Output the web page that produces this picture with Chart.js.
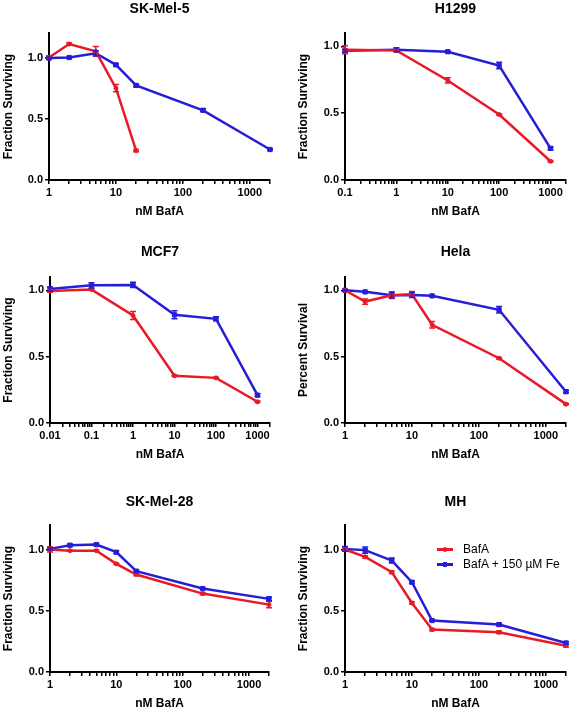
<!DOCTYPE html>
<html>
<head>
    <meta charset="utf-8">
    <title>BafA survival</title>
    <script src="https://cdn.jsdelivr.net/npm/chart.js@4.4.1/dist/chart.umd.min.js"></script>
    <style>
        body { margin: 0; background: #fff; }
        #wrap { position: relative; width: 571px; height: 711px; font-family: "Liberation Sans", Arial, sans-serif; }
        #wrap canvas { position: absolute; }
        #legend { position: absolute; left: 437px; top: 542px; font-size: 12px; color: #000; }
        #legend .row { height: 15px; line-height: 15px; white-space: nowrap; position: relative; padding-left: 26px; }
        #legend .line { position: absolute; left: 0; top: 6px; width: 16px; height: 2.5px; }
        #legend .mark { position: absolute; left: 5.5px; top: 5px; width: 4.5px; height: 4.5px; }
    </style>
</head>
<body>
<div id="wrap">
    <canvas id="p1" width="285" height="235" style="left:0;top:0"></canvas>
    <canvas id="p2" width="286" height="235" style="left:285px;top:0"></canvas>
    <canvas id="p3" width="285" height="235" style="left:0;top:235px"></canvas>
    <canvas id="p4" width="286" height="235" style="left:285px;top:235px"></canvas>
    <canvas id="p5" width="285" height="241" style="left:0;top:470px"></canvas>
    <canvas id="p6" width="286" height="241" style="left:285px;top:470px"></canvas>
    <div id="legend"></div>
</div>
<script>
    const seriesNames = ['BafA', 'BafA + 150 \u00b5M Fe'];
    const redColor = 'rgb(232,26,38)';
    const blueColor = 'rgb(38,30,214)';
    const yTicks = [0, 0.5, 1.0];

    // SK-Mel-5
    const skmel5Dose = [1, 2, 5, 10, 20, 200, 2000];
    const skmel5Bafa = [1.0, 1.11, 1.05, 0.75, 0.24];
    const skmel5BafaErr = [0.015, 0.01, 0.04, 0.03, 0.01];
    const skmel5Fe = [0.995, 1.0, 1.035, 0.94, 0.772, 0.569, 0.249];
    const skmel5FeErr = [0.01, 0.005, 0.02, 0.01, 0.01, 0.01, 0.005];
    const skmel5XLabels = [1, 10, 100, 1000];

    // H1299
    const h1299Dose = [0.1, 1, 10, 100, 1000];
    const h1299Bafa = [0.975, 0.97, 0.745, 0.49, 0.14];
    const h1299BafaErr = [0.03, 0.01, 0.02, 0.005, 0.005];
    const h1299Fe = [0.967, 0.975, 0.96, 0.857, 0.237];
    const h1299FeErr = [0.01, 0.015, 0.005, 0.025, 0.01];
    const h1299XLabels = [0.1, 1, 10, 100, 1000];

    // MCF7
    const mcf7Dose = [0.01, 0.1, 1, 10, 100, 1000];
    const mcf7Bafa = [0.995, 1.005, 0.81, 0.356, 0.34, 0.16];
    const mcf7BafaErr = [0.01, 0.005, 0.03, 0.005, 0.005, 0.005];
    const mcf7Fe = [1.01, 1.037, 1.04, 0.815, 0.785, 0.21];
    const mcf7FeErr = [0.015, 0.02, 0.02, 0.03, 0.015, 0.01];
    const mcf7XLabels = [0.01, 0.1, 1, 10, 100, 1000];

    // Hela
    const helaDose = [1, 2, 5, 10, 20, 200, 2000];
    const helaBafa = [1.0, 0.915, 0.963, 0.97, 0.74, 0.488, 0.142];
    const helaBafaErr = [0.005, 0.02, 0.025, 0.02, 0.025, 0.005, 0.005];
    const helaFe = [1.0, 0.988, 0.963, 0.965, 0.958, 0.853, 0.236];
    const helaFeErr = [0.005, 0.005, 0.02, 0.02, 0.005, 0.025, 0.01];
    const helaXLabels = [1, 10, 100, 1000];

    // SK-Mel-28
    const skmel28Dose = [1, 2, 5, 10, 20, 200, 2000];
    const skmel28Bafa = [1.0, 0.99, 0.99, 0.883, 0.796, 0.64, 0.55];
    const skmel28BafaErr = [0.02, 0.005, 0.005, 0.005, 0.01, 0.01, 0.025];
    const skmel28Fe = [1.005, 1.035, 1.04, 0.978, 0.823, 0.681, 0.597];
    const skmel28FeErr = [0.01, 0.01, 0.01, 0.01, 0.01, 0.005, 0.015];
    const skmel28XLabels = [1, 10, 100, 1000];

    // MH
    const mhDose = [1, 2, 5, 10, 20, 200, 2000];
    const mhBafa = [1.0, 0.94, 0.815, 0.564, 0.346, 0.324, 0.215];
    const mhBafaErr = [0.01, 0.01, 0.01, 0.01, 0.01, 0.01, 0.01];
    const mhFe = [1.005, 0.995, 0.91, 0.733, 0.42, 0.387, 0.237];
    const mhFeErr = [0.02, 0.025, 0.02, 0.01, 0.005, 0.01, 0.01];
    const mhXLabels = [1, 10, 100, 1000];

    Chart.defaults.font.family = '"Liberation Sans", Arial, sans-serif';
    Chart.defaults.color = '#000';

    const errorBars = {
        id: 'errorBars',
        afterDatasetsDraw(chart) {
            const ctx = chart.ctx, xs = chart.scales.x, ys = chart.scales.y;
            chart.data.datasets.forEach(ds => {
                ctx.save();
                ctx.strokeStyle = ds.borderColor;
                ctx.lineWidth = 1.5;
                ds.data.forEach((p, i) => {
                    const e = ds.errors[i];
                    if (!e) return;
                    const px = xs.getPixelForValue(p.x);
                    const yt = ys.getPixelForValue(p.y + e), yb = ys.getPixelForValue(p.y - e);
                    ctx.beginPath();
                    ctx.moveTo(px, yt); ctx.lineTo(px, yb);
                    ctx.moveTo(px - 3, yt); ctx.lineTo(px + 3, yt);
                    ctx.moveTo(px - 3, yb); ctx.lineTo(px + 3, yb);
                    ctx.stroke();
                });
                ctx.restore();
            });
        }
    };

    function points(dose, vals) {
        return vals.map((v, i) => ({ x: dose[i], y: v }));
    }

    function logTicks(labels, max) {
        let t = [];
        labels.forEach(d => {
            for (let k = 1; k < 10; k++) {
                const v = +(d * k).toPrecision(3);
                if (v <= max) t.push(v);
            }
        });
        return t;
    }

    // row geometry: [title pad top, title pad bottom, x axis height, bottom pad]
    const rows = [[0.6, 15.6, 39.2, 15.8], [8.3, 16.9, 39.2, 7.8], [23.3, 14.9, 39, 0]];

    function panel(id, title, yTitle, dose, bafa, bafaErr, fe, feErr, xLabels, xMin, xMax, yMax, row, yW, padRight, yTitlePad) {
        const r = rows[row];
        new Chart(document.getElementById(id), {
            type: 'line',
            data: {
                datasets: [{
                    label: seriesNames[0],
                    data: points(dose, bafa),
                    errors: bafaErr,
                    borderColor: redColor,
                    backgroundColor: redColor,
                    borderWidth: 2.5,
                    pointStyle: 'circle',
                    pointRadius: 2,
                    pointBorderWidth: 1,
                    clip: false
                }, {
                    label: seriesNames[1],
                    data: points(dose, fe),
                    errors: feErr,
                    borderColor: blueColor,
                    backgroundColor: blueColor,
                    borderWidth: 2.5,
                    pointStyle: 'rect',
                    pointRadius: 3,
                    pointBorderWidth: 1,
                    clip: false
                }]
            },
            options: {
                responsive: false,
                animation: false,
                layout: { padding: { left: 0, top: 0, right: padRight, bottom: r[3] } },
                plugins: {
                    legend: { display: false },
                    tooltip: { enabled: false },
                    title: {
                        display: true,
                        text: title,
                        fullSize: false,
                        font: { size: 14, weight: 'bold' },
                        padding: { top: r[0], bottom: r[1] }
                    }
                },
                scales: {
                    x: {
                        type: 'logarithmic',
                        min: xMin,
                        max: xMax,
                        afterBuildTicks: s => { s.ticks = logTicks(xLabels, xMax).map(v => ({ value: v })); },
                        afterFit: s => { s.height = r[2]; },
                        border: { display: true, color: '#000', width: 2 },
                        grid: { display: true, drawOnChartArea: false, tickLength: 4, color: '#000', lineWidth: 1.5 },
                        ticks: {
                            autoSkip: false, maxRotation: 0, padding: 2,
                            font: { size: 11, weight: 'bold' },
                            callback: v => xLabels.includes(v) ? String(v) : ''
                        },
                        title: { display: true, text: 'nM BafA', font: { size: 12, weight: 'bold' }, padding: 0 }
                    },
                    y: {
                        min: 0,
                        max: yMax,
                        afterBuildTicks: s => { s.ticks = yTicks.map(v => ({ value: v })); },
                        afterFit: s => { s.width = yW; },
                        border: { display: true, color: '#000', width: 2 },
                        grid: { display: true, drawOnChartArea: false, tickLength: 4, color: '#000', lineWidth: 1.5 },
                        ticks: {
                            padding: 2,
                            font: { size: 11, weight: 'bold' },
                            callback: v => v.toFixed(1)
                        },
                        title: { display: true, text: yTitle, font: { size: 12, weight: 'bold' }, padding: { top: yTitlePad, bottom: 0 } }
                    }
                }
            },
            plugins: [errorBars]
        });
    }

    panel('p1', 'SK-Mel-5', 'Fraction Surviving', skmel5Dose, skmel5Bafa, skmel5BafaErr, skmel5Fe, skmel5FeErr, skmel5XLabels, 1, 2000, 1.2, 0, 49, 15, 1.5);
    panel('p2', 'H1299', 'Fraction Surviving', h1299Dose, h1299Bafa, h1299BafaErr, h1299Fe, h1299FeErr, h1299XLabels, 0.1, 2000, 1.1, 0, 60, 5, 11);
    panel('p3', 'MCF7', 'Fraction Surviving', mcf7Dose, mcf7Bafa, mcf7BafaErr, mcf7Fe, mcf7FeErr, mcf7XLabels, 0.01, 2000, 1.1, 1, 50, 15, 1.5);
    panel('p4', 'Hela', 'Percent Survival', helaDose, helaBafa, helaBafaErr, helaFe, helaFeErr, helaXLabels, 1, 2000, 1.1, 1, 60, 5, 11);
    panel('p5', 'SK-Mel-28', 'Fraction Surviving', skmel28Dose, skmel28Bafa, skmel28BafaErr, skmel28Fe, skmel28FeErr, skmel28XLabels, 1, 2000, 1.2, 2, 50, 16, 1.5);
    panel('p6', 'MH', 'Fraction Surviving', mhDose, mhBafa, mhBafaErr, mhFe, mhFeErr, mhXLabels, 1, 2000, 1.2, 2, 60, 5, 11);

    // legend (shown inside the MH panel)
    const legend = document.getElementById('legend');
    [redColor, blueColor].forEach((c, i) => {
        const row = document.createElement('div');
        row.className = 'row';
        row.innerHTML = '<span class="line" style="background:' + c + '"></span>' +
            '<span class="mark" style="background:' + c + ';border-radius:' + (i === 0 ? '50%' : '0') + '"></span>' +
            seriesNames[i];
        legend.appendChild(row);
    });
</script>
</body>
</html>
